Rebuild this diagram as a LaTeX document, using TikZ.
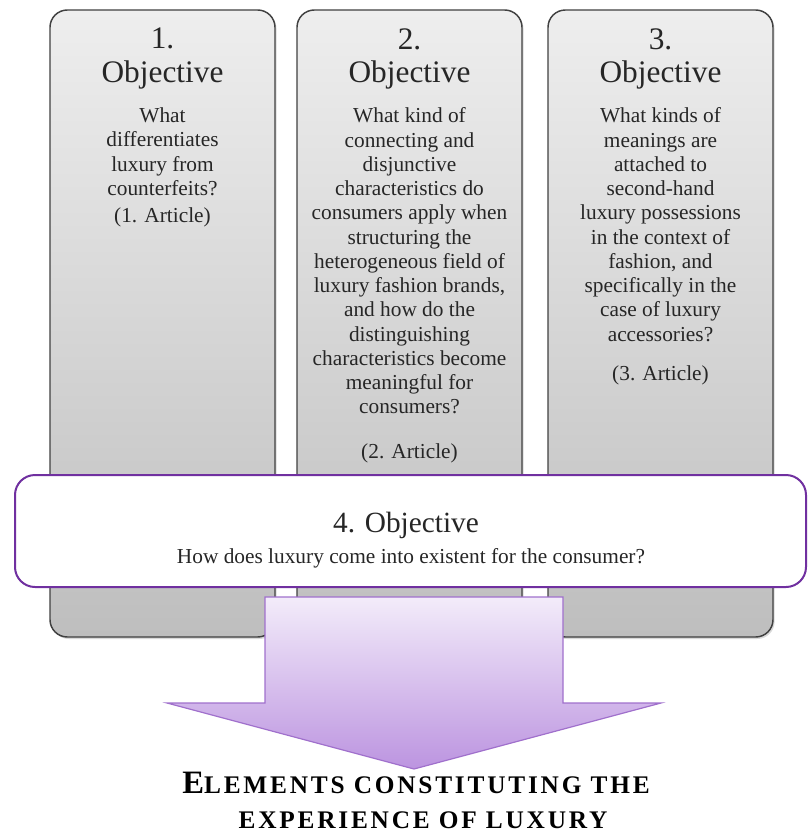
\documentclass[tikz,border=0pt]{standalone}
\usepackage{fontspec}
\setmainfont{Liberation Serif}
\usetikzlibrary{shadows}
\definecolor{boxtop}{RGB}{238,238,238}
\definecolor{boxbot}{RGB}{190,190,190}
\definecolor{boxline}{RGB}{64,64,64}
\definecolor{plum}{RGB}{112,48,160}
\definecolor{arrtop}{RGB}{243,236,250}
\definecolor{arrbot}{RGB}{188,148,224}
\definecolor{arrline}{RGB}{160,112,204}
\definecolor{ink}{RGB}{38,38,38}
\newcommand\capbig[1]{{\fontsize{24.5}{26}\selectfont #1}}
\begin{document}
\begin{tikzpicture}[x=0.75pt,y=-0.75pt,
  objbox/.style={rectangle, rounded corners=13pt, draw=boxline, line width=1.1pt,
    top color=boxtop, bottom color=boxbot, minimum width=168.75pt,
    minimum height=470.25pt, inner sep=0pt,
    drop shadow={shadow xshift=1.2pt, shadow yshift=-1.5pt, opacity=0.3}},
  mainbox/.style={rectangle, rounded corners=15pt, draw=plum, line width=1.5pt,
    fill=white, minimum width=593.25pt, minimum height=84pt, inner sep=0pt},
  head/.style={anchor=north, align=center, inner sep=0pt, text=ink,
    font=\fontsize{23.5}{25}\selectfont},
  body/.style={anchor=north, align=center, inner sep=0pt, text=ink,
    font=\fontsize{16}{18.2}\selectfont},
  note/.style={anchor=base, inner sep=0pt, text=ink,
    font=\fontsize{16}{18.2}\selectfont},
  arrowshape/.style={top color=arrtop, bottom color=arrbot, draw=arrline,
    line width=0.9pt, line join=miter},
  result/.style={anchor=base, inner sep=0pt, text=black,
    font=\fontsize{19}{21}\selectfont\bfseries\addfontfeature{LetterSpace=11}}
]
\useasboundingbox (0,0) rectangle (808,839);

% three research objectives
\node[objbox] (b1) at (162.5,323.5) {};
\node[objbox] (b2) at (409.5,323.5) {};
\node[objbox] (b3) at (660.5,323.5) {};

\node[head] (h1) at (162.5,28) {1.\\Objective};
\node[head] (h2) at (409.5,28) {2.\\Objective};
\node[head] (h3) at (660.5,28) {3.\\Objective};

\node[body] (q1) at (162.5,107.5) {What\\differentiates\\luxury from\\counterfeits?};
\node[note] (a1) at (162.5,222) {(1. Article)};

\node[body] (q2) at (409.5,107.5) {What kind of\\connecting and\\disjunctive\\characteristics do\\consumers apply when\\structuring the\\heterogeneous field of\\luxury fashion brands,\\and how do the\\distinguishing\\characteristics become\\meaningful for\\consumers?};
\node[note] (a2) at (409.5,458) {(2. Article)};

\node[body] (q3) at (660.5,107.5) {What kinds of\\meanings are\\attached to\\second-hand\\luxury possessions\\in the context of\\fashion, and\\specifically in the\\case of luxury\\accessories?};
\node[note] (a3) at (660.5,380) {(3. Article)};

% overall objective
\node[mainbox] (b4) at (410.5,531) {};
\node[note, font=\fontsize{22}{24}\selectfont] (h4) at (406,532) {4. Objective};
\node[note] (q4) at (411,563) {How does luxury come into existent for the consumer?};

% block arrow towards the outcome
\draw[arrowshape] (265,597) -- (563,597) -- (563,703) -- (661,703)
  -- (414,769) coordinate (tip) -- (167,703) -- (265,703) -- cycle;

\node[result] (r1) at (416,793) {\capbig{E}LEMENTS CONSTITUTING THE};
\node[result] (r2) at (423,828) {EXPERIENCE OF LUXURY};
\end{tikzpicture}
\end{document}
